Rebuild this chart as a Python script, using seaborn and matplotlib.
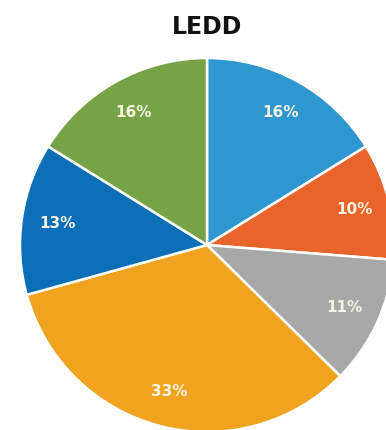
import matplotlib
matplotlib.use("Agg")
import matplotlib.pyplot as plt
import seaborn as sns

sns.set_theme(style="white")
plt.rcParams['font.family'] = ['DejaVu Sans']

title = "LEDD"
labels = ["16%", "10%", "11%", "33%", "13%", "16%"]
values = [16, 10, 11, 33, 13, 16]
colors = ["#2f97d0", "#e8642b", "#a8a8a8", "#f0a31e", "#0b6fb8", "#76a346"]

fig = plt.figure(figsize=(3.86, 4.30), dpi=100)
fig.patch.set_facecolor("white")
r_px = 187
cx, cy = 207, 430 - 245
ax = fig.add_axes([(cx - r_px) / 386, (cy - r_px) / 430, 2 * r_px / 386, 2 * r_px / 430])

wedges, texts = ax.pie(
    values,
    colors=colors,
    startangle=90,
    counterclock=False,
    radius=1.0,
    wedgeprops=dict(edgecolor="white", linewidth=1.8),
    labels=labels,
    labeldistance=0.81,
    textprops=dict(color="#f7f3e3", fontsize=11, fontweight="bold", ha="center", va="center"),
)
for t in texts:
    t.set_ha("center")
    t.set_va("center")
ax.set_xlim(-1, 1)
ax.set_ylim(-1, 1)
ax.set_aspect("equal")
ax.axis("off")

fig.text(207 / 386, 1 - 27 / 430, title, ha="center", va="center",
         fontsize=17, fontweight="bold", color="#111111")

fig.savefig("out.png", dpi=100, facecolor="white")
